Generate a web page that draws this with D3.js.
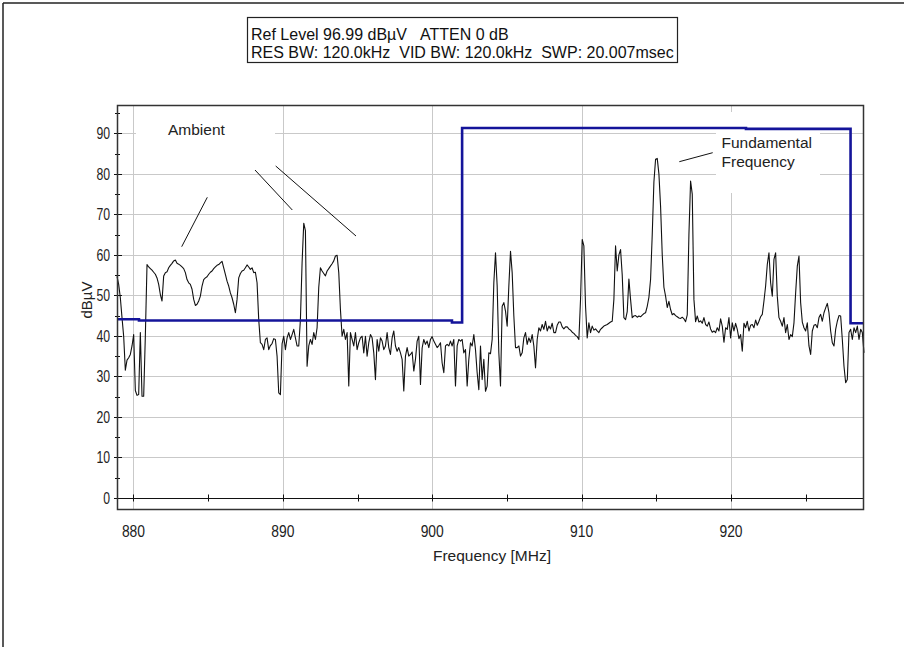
<!DOCTYPE html>
<html>
<head>
<meta charset="utf-8">
<script src="https://cdn.jsdelivr.net/npm/d3@7"></script>
<style>
  html, body { margin: 0; padding: 0; background: #fff; }
  svg { display: block; }
  text { white-space: pre; }
</style>
</head>
<body>
<svg id="chart" width="904" height="647"></svg>
<script>
// ---- Sweep / instrument settings ----
const sweepStartMHz = 878.9;
const sweepStopMHz = 928.9;
const levelTop = 96.99;      // reference level, top of the display
const levelBottom = -3;

// Measured trace (dBµV), one value per sweep point, equally spaced from start to stop
const traceLevels = [
  54.7, 52.7, 49.4, 44.5, 39.9, 31.5, 34.0, 34.6, 35.4, 37.5,
  40.3, 26.5, 25.3, 25.5, 40.8, 25.1, 25.1, 40.0, 57.6, 57.0,
  56.6, 56.2, 55.7, 55.2, 54.3, 52.7, 50.2, 48.6, 54.8, 55.6,
  55.8, 56.8, 57.4, 57.9, 58.5, 58.7, 57.9, 57.7, 57.4, 57.0,
  56.6, 55.6, 53.9, 53.1, 52.7, 51.5, 49.0, 47.5, 47.8, 48.6,
  49.8, 52.3, 53.9, 54.3, 54.6, 55.2, 55.7, 56.0, 56.6, 57.0,
  57.4, 57.6, 58.0, 58.4, 56.8, 55.2, 53.5, 52.3, 50.6, 49.4,
  47.8, 45.7, 49.0, 54.3, 55.4, 56.0, 56.2, 56.8, 57.5, 57.0,
  56.4, 56.8, 55.6, 55.7, 53.1, 44.0, 38.3, 37.9, 36.6, 39.1,
  39.5, 36.6, 37.6, 38.1, 39.3, 39.1, 35.0, 25.9, 25.5, 38.0,
  39.9, 36.6, 39.5, 40.8, 39.1, 40.3, 41.6, 39.5, 37.5, 37.5,
  44.0, 58.0, 67.8, 66.0, 32.5, 37.5, 39.1, 37.9, 40.8, 39.1,
  42.0, 52.0, 56.8, 56.0, 55.4, 54.8, 56.0, 56.6, 57.2, 57.8,
  58.5, 59.7, 59.9, 55.6, 46.5, 39.9, 41.6, 39.1, 40.8, 27.6,
  40.8, 39.1, 37.5, 40.8, 36.6, 38.3, 39.5, 39.9, 35.8, 39.9,
  35.0, 38.3, 40.3, 39.5, 35.8, 29.2, 39.1, 36.2, 39.5, 38.7,
  36.6, 37.5, 40.8, 37.1, 35.4, 39.5, 41.2, 37.5, 36.2, 37.1,
  35.8, 34.2, 26.4, 35.0, 37.1, 35.0, 35.4, 36.0, 31.3, 34.2,
  38.7, 39.9, 28.0, 37.0, 39.1, 37.9, 38.7, 37.1, 39.1, 39.8,
  38.7, 37.9, 37.1, 37.6, 38.3, 33.3, 30.9, 37.5, 37.9, 37.5,
  38.7, 37.5, 39.1, 27.6, 37.5, 39.1, 38.7, 39.1, 35.8, 36.6,
  27.6, 34.2, 38.3, 37.5, 40.3, 36.6, 30.9, 26.7, 37.5, 29.2,
  34.2, 26.3, 27.6, 35.8, 35.6, 39.1, 53.1, 60.5, 52.3, 35.8,
  27.6, 47.3, 48.2, 46.1, 42.4, 52.3, 60.9, 55.6, 44.9, 37.1,
  37.1, 37.5, 35.0, 35.8, 39.5, 40.8, 37.9, 39.5, 38.4, 40.3,
  37.5, 32.1, 39.1, 42.0, 41.2, 42.8, 41.6, 43.6, 41.2, 42.4,
  41.7, 43.1, 40.8, 40.8, 42.6, 43.4, 43.4, 42.2, 41.7, 42.2,
  42.2, 41.7, 41.4, 40.9, 40.6, 40.1, 39.8, 39.1, 49.0, 63.8,
  62.2, 47.3, 39.5, 43.2, 40.8, 42.4, 41.4, 41.7, 41.2, 40.8,
  41.6, 42.0, 42.4, 42.6, 42.8, 43.1, 43.4, 43.6, 49.0, 62.2,
  56.0, 60.0, 61.3, 55.0, 44.5, 44.0, 46.0, 54.0, 49.0, 44.5,
  44.9, 45.0, 44.6, 44.9, 44.7, 45.1, 45.5, 45.7, 47.3, 49.5,
  53.9, 65.0, 78.0, 83.6, 83.8, 80.0, 72.0, 60.0, 52.0, 49.8,
  47.0, 48.5, 46.5, 45.2, 45.5, 45.0, 44.7, 44.4, 44.3, 44.6,
  44.2, 43.5, 45.2, 65.0, 78.2, 75.0, 49.0, 43.5, 44.9, 43.4,
  43.7, 43.1, 44.5, 42.8, 42.4, 43.4, 41.7, 40.9, 41.2, 40.8,
  42.0, 41.2, 44.2, 42.4, 38.4, 42.0, 41.6, 44.5, 39.5, 43.2,
  41.2, 43.1, 41.6, 39.3, 40.3, 36.2, 43.1, 42.0, 43.6, 41.2,
  42.6, 42.8, 42.0, 43.9, 42.6, 43.6, 44.7, 45.3, 48.6, 52.3,
  57.6, 60.5, 53.1, 49.8, 58.9, 60.5, 49.8, 44.5, 43.6, 42.4,
  44.5, 40.8, 42.8, 39.1, 40.3, 39.8, 43.2, 50.6, 57.2, 59.7,
  48.2, 43.4, 42.0, 41.2, 43.2, 37.5, 35.4, 41.2, 42.6, 42.8,
  42.0, 44.5, 45.3, 43.6, 45.7, 46.9, 48.0, 45.7, 41.2, 38.3,
  37.5, 41.6, 43.6, 45.0, 44.9, 39.1, 32.5, 28.4, 29.2, 40.8,
  41.6, 39.1, 42.0, 40.8, 42.4, 39.1, 41.6, 40.8, 35.8
];

// Emission limit (step line): each level holds from its frequency to the next one
const limitFreqs  = [878.9, 880.37, 901.32, 902.0, 921.0, 928.0, 928.9];
const limitLevels = [44.1, 43.8, 43.3, 91.3, 91.1, 43.1, 43.1];

// Axis ticks
const xTicksMajor = [880, 890, 900, 910, 920];
const xTicksMinor = [885, 895, 905, 915, 925];
const yTicksMajor = [0, 10, 20, 30, 40, 50, 60, 70, 80, 90];
const yTicksMinor = [5, 15, 25, 35, 45, 55, 65, 75, 85, 95];

// Texts
const headerLine1a = "Ref Level 96.99 dBµV";
const headerLine1b = "ATTEN 0 dB";
const headerLine2 = "RES BW: 120.0kHz  VID BW: 120.0kHz  SWP: 20.007msec";
const xTitle = "Frequency [MHz]";
const yTitle = "dBµV";
const ambientLabel = "Ambient";
const fundamentalLabel = ["Fundamental", "Frequency"];

// ---- Layout ----
const plot = { left: 117, right: 864, top: 105, bottom: 510 };
const svg = d3.select("#chart");
const sansFont = "'Liberation Sans', Arial, sans-serif";

const x = d3.scaleLinear().domain([sweepStartMHz, sweepStopMHz]).range([plot.left, plot.right]);
const y = d3.scaleLinear().domain([levelBottom, levelTop]).range([plot.bottom, plot.top]);

svg.append("rect").attr("width", 904).attr("height", 647).attr("fill", "#fff");

// outer frame (top and left edges)
svg.append("line").attr("x1", 3).attr("x2", 904).attr("y1", 3).attr("y2", 3)
  .attr("stroke", "#222").attr("stroke-width", 1.5);
svg.append("line").attr("x1", 3).attr("x2", 3).attr("y1", 3).attr("y2", 647)
  .attr("stroke", "#222").attr("stroke-width", 1.5);

// header box
const hdr = svg.append("g");
hdr.append("rect").attr("x", 247.5).attr("y", 17.5).attr("width", 430).attr("height", 45)
  .attr("fill", "#fff").attr("stroke", "#222").attr("stroke-width", 1.2);
hdr.append("text").attr("x", 251).attr("y", 40).attr("font-family", sansFont).attr("font-size", 16)
  .attr("fill", "#111").text(headerLine1a);
hdr.append("text").attr("x", 420).attr("y", 40).attr("font-family", sansFont).attr("font-size", 16)
  .attr("fill", "#111").text(headerLine1b);
hdr.append("text").attr("x", 251).attr("y", 58).attr("font-family", sansFont).attr("font-size", 16)
  .attr("fill", "#111").text(headerLine2);

// grid
const grid = svg.append("g").attr("stroke", "#c9c9c9").attr("stroke-width", 1);
grid.selectAll("line.v").data(xTicksMajor).join("line")
  .attr("x1", d => Math.round(x(d)) + 0.5).attr("x2", d => Math.round(x(d)) + 0.5)
  .attr("y1", plot.top).attr("y2", plot.bottom);
grid.selectAll("line.h").data(yTicksMajor.filter(d => d !== 0)).join("line")
  .attr("x1", plot.left).attr("x2", plot.right)
  .attr("y1", d => Math.round(y(d)) + 0.5).attr("y2", d => Math.round(y(d)) + 0.5);

// label backgrounds
svg.append("rect").attr("x", 136).attr("y", 119).attr("width", 139).attr("height", 24).attr("fill", "#fff");
svg.append("rect").attr("x", 716).attr("y", 112).attr("width", 104).attr("height", 81).attr("fill", "#fff");

// y axis ticks on the left edge
const yAxis = svg.append("g").attr("stroke", "#111").attr("stroke-width", 1);
yAxis.selectAll("line.maj").data(yTicksMajor).join("line")
  .attr("x1", plot.left - 3).attr("x2", plot.left + 5)
  .attr("y1", d => Math.round(y(d)) + 0.5).attr("y2", d => Math.round(y(d)) + 0.5);
yAxis.selectAll("line.min").data(yTicksMinor).join("line")
  .attr("x1", plot.left - 2).attr("x2", plot.left + 3)
  .attr("y1", d => Math.round(y(d)) + 0.5).attr("y2", d => Math.round(y(d)) + 0.5);
svg.append("g").selectAll("text").data(yTicksMajor).join("text")
  .attr("x", 110).attr("y", d => y(d) + 6)
  .attr("text-anchor", "end").attr("font-family", sansFont).attr("font-size", 16).attr("fill", "#222")
  .attr("textLength", d => String(d).length * 6.8).attr("lengthAdjust", "spacingAndGlyphs")
  .text(d => d);

// x axis along the 0 dBµV line
const zeroY = Math.round(y(0)) + 0.5;
svg.append("line").attr("x1", plot.left).attr("x2", plot.right).attr("y1", zeroY).attr("y2", zeroY)
  .attr("stroke", "#111").attr("stroke-width", 1.2);
const xAxis = svg.append("g").attr("stroke", "#111").attr("stroke-width", 1);
xAxis.selectAll("line").data(xTicksMajor.concat(xTicksMinor)).join("line")
  .attr("x1", d => Math.round(x(d)) + 0.5).attr("x2", d => Math.round(x(d)) + 0.5)
  .attr("y1", zeroY - 4).attr("y2", zeroY + 3);
svg.append("g").selectAll("text").data(xTicksMajor).join("text")
  .attr("x", d => x(d)).attr("y", 536.5)
  .attr("text-anchor", "middle").attr("font-family", sansFont).attr("font-size", 16).attr("fill", "#222")
  .attr("textLength", d => String(d).length * 7.7).attr("lengthAdjust", "spacingAndGlyphs")
  .text(d => d);

// axis titles
svg.append("text").attr("x", 492).attr("y", 561).attr("text-anchor", "middle")
  .attr("font-family", sansFont).attr("font-size", 15.5).attr("fill", "#222").text(xTitle);
svg.append("text").attr("transform", "translate(92,300) rotate(-90)").attr("text-anchor", "middle")
  .attr("font-family", sansFont).attr("font-size", 15).attr("fill", "#222").text(yTitle);

// trace
const stepMHz = (sweepStopMHz - sweepStartMHz) / (traceLevels.length - 1);
const traceData = traceLevels.map((v, i) => ({ f: sweepStartMHz + i * stepMHz, v }));
svg.append("path").datum(traceData)
  .attr("fill", "none").attr("stroke", "#111").attr("stroke-width", 1.1).attr("stroke-linejoin", "round")
  .attr("d", d3.line().x(d => x(d.f)).y(d => y(d.v)));

// limit line
const limitData = limitFreqs.map((f, i) => ({ f, v: limitLevels[i] }));
svg.append("path").datum(limitData)
  .attr("fill", "none").attr("stroke", "#14149a").attr("stroke-width", 2.6)
  .attr("d", d3.line().curve(d3.curveStepAfter).x(d => x(d.f)).y(d => y(d.v)));

// annotations
const ann = svg.append("g").attr("stroke", "#111").attr("stroke-width", 1);
ann.append("line").attr("x1", 181.7).attr("y1", 246.7).attr("x2", 207.3).attr("y2", 197.3);
ann.append("line").attr("x1", 255).attr("y1", 170).attr("x2", 292.3).attr("y2", 210);
ann.append("line").attr("x1", 275.7).attr("y1", 166).attr("x2", 356).attr("y2", 236);
ann.append("line").attr("x1", 679.3).attr("y1", 161.7).attr("x2", 712.7).attr("y2", 152.7);

svg.append("text").attr("x", 168).attr("y", 135).attr("font-family", sansFont).attr("font-size", 15.5)
  .attr("fill", "#222").text(ambientLabel);
svg.append("g").selectAll("text").data(fundamentalLabel).join("text")
  .attr("x", 721.5).attr("y", (d, i) => 148 + i * 19)
  .attr("font-family", sansFont).attr("font-size", 15.5).attr("fill", "#222").text(d => d);

// plot frame
svg.append("rect").attr("x", plot.left + 0.5).attr("y", plot.top + 0.5)
  .attr("width", plot.right - plot.left - 1).attr("height", plot.bottom - plot.top - 1)
  .attr("fill", "none").attr("stroke", "#333").attr("stroke-width", 1.5);
</script>
</body>
</html>
